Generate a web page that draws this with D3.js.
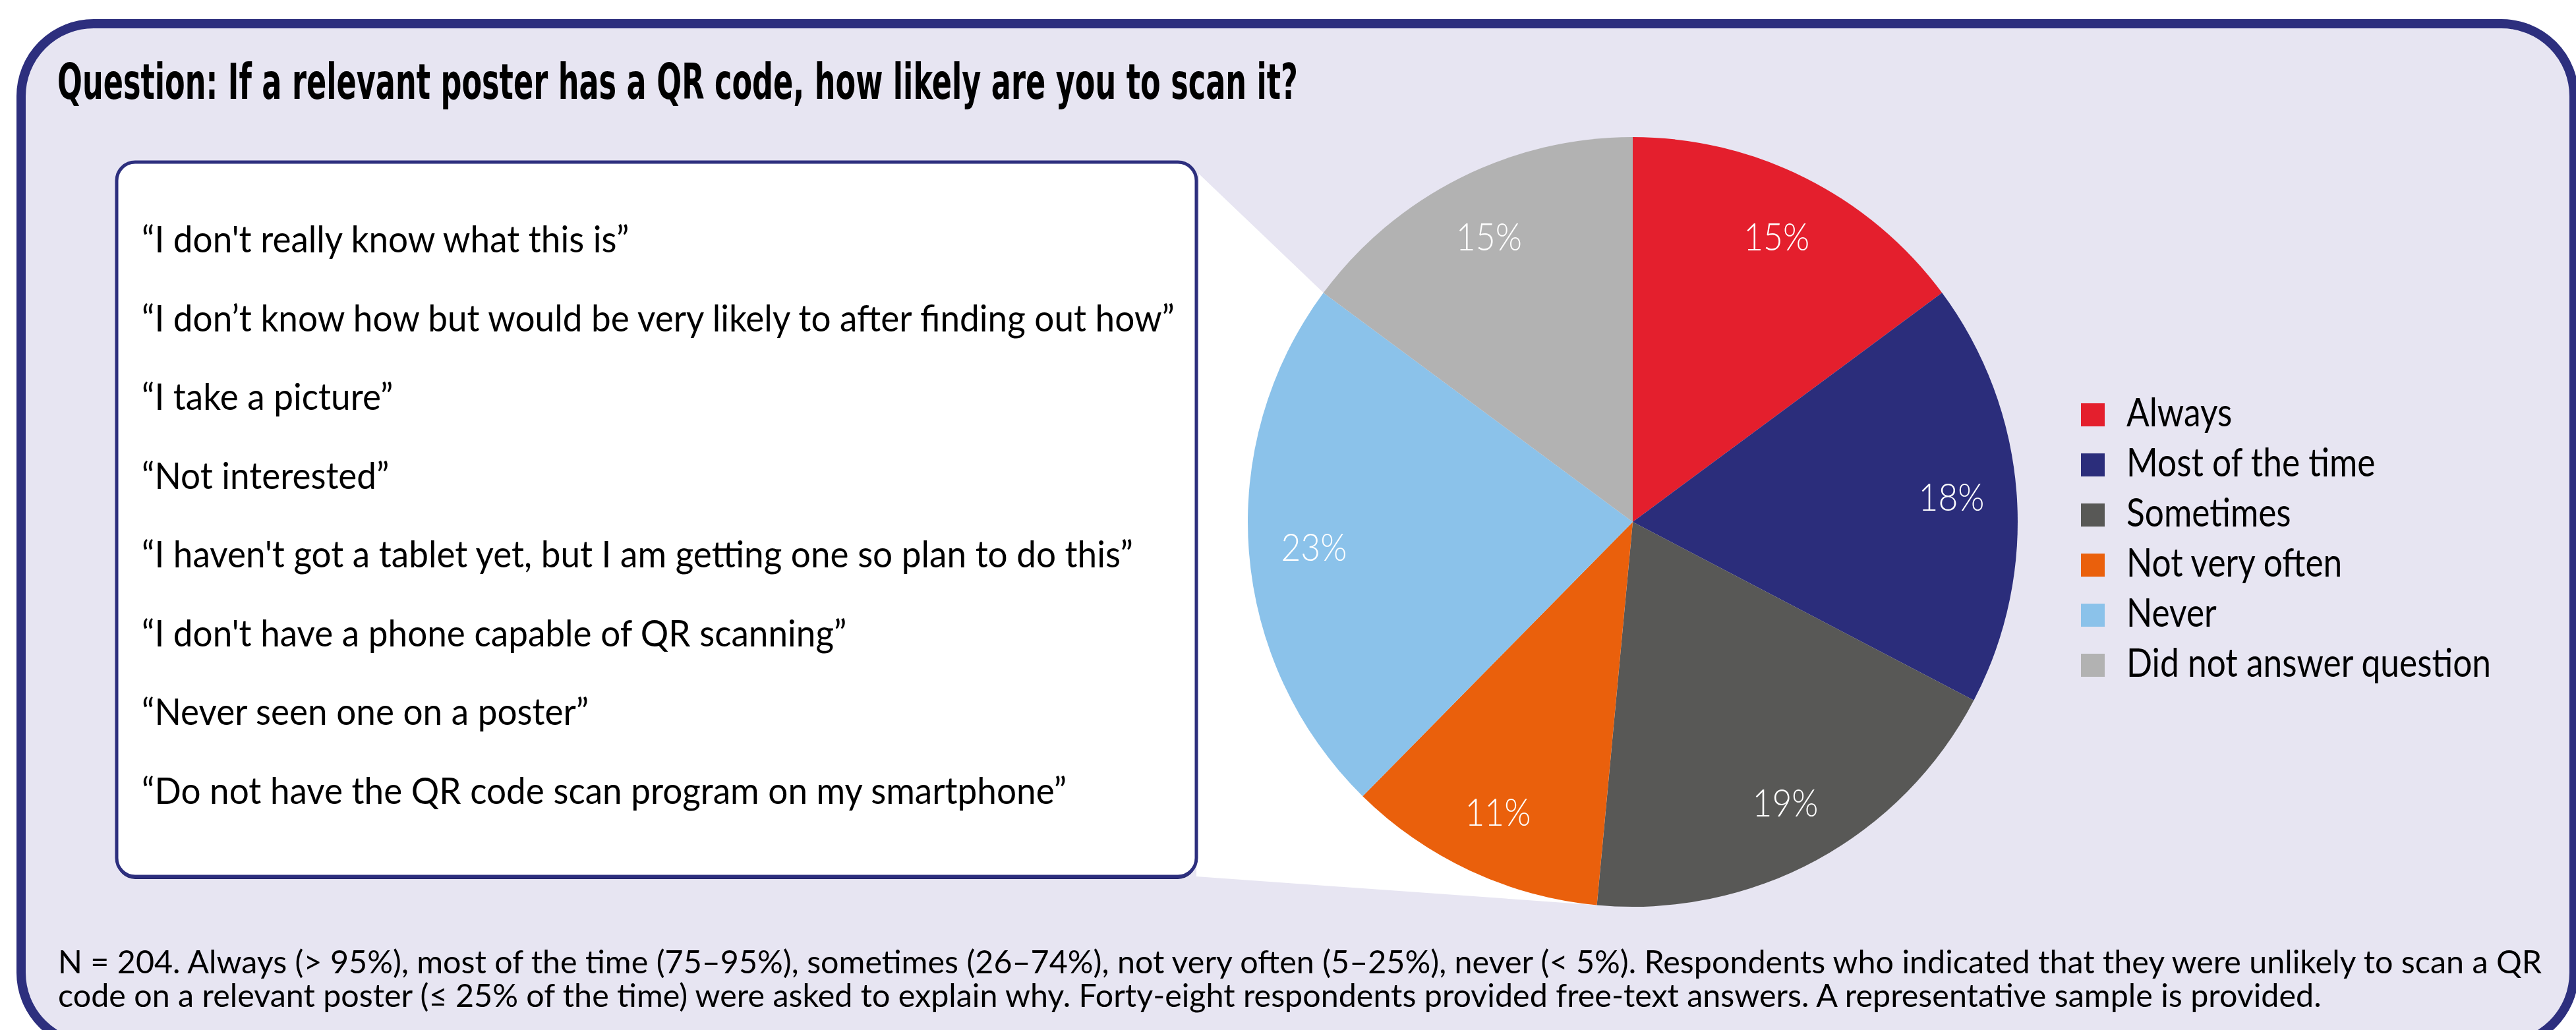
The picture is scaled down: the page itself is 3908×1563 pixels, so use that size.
<!DOCTYPE html>
<html>
<head>
<meta charset="utf-8">
<script src="https://cdn.jsdelivr.net/npm/d3@7"></script>
<style>
  body { margin: 0; background: #fff; overflow: hidden; }
  svg { display: block; }
</style>
</head>
<body>
<svg id="chart" width="3908" height="1563"></svg>
<script>
// datos
const titleText = "Question: If a relevant poster has a QR code, how likely are you to scan it?";
const categories = ["Always", "Most of the time", "Sometimes", "Not very often", "Never", "Did not answer question"];
const shares = [15, 18, 19, 11, 23, 15];
const sliceColors = ["#e41f2d", "#2b2d7b", "#585856", "#ea600c", "#8bc2ea", "#b2b2b2"];
const quotes = [
  "\u201CI don't really know what this is\u201D",
  "\u201CI don\u2019t know how but would be very likely to after finding out how\u201D",
  "\u201CI take a picture\u201D",
  "\u201CNot interested\u201D",
  "\u201CI haven't got a tablet yet, but I am getting one so plan to do this\u201D",
  "\u201CI don't have a phone capable of QR scanning\u201D",
  "\u201CNever seen one on a poster\u201D",
  "\u201CDo not have the QR code scan program on my smartphone\u201D"
];
const footnoteLines = [
  "N = 204. Always (> 95%), most of the time (75\u201395%), sometimes (26\u201374%), not very often (5\u201325%), never (< 5%). Respondents who indicated that they were unlikely to scan a QR",
  "code on a relevant poster (\u2264 25% of the time) were asked to explain why. Forty-eight respondents provided free-text answers. A representative sample is provided."
];

const svg = d3.select("#chart");
const navy = "#2d2f7e";
const bodyFont = "Lato, 'Open Sans', 'DejaVu Sans', sans-serif";

// ajusta el ancho de un grupo de textos a partir de uno de referencia
function fitTexts(sel, refNode, target) {
  const k = target / refNode.getComputedTextLength();
  sel.each(function () {
    const w = this.getComputedTextLength();
    d3.select(this).attr("textLength", w * k).attr("lengthAdjust", "spacingAndGlyphs");
  });
}

// panel de fondo
svg.append("rect")
  .attr("x", 32).attr("y", 36)
  .attr("width", 3873).attr("height", 1550)
  .attr("rx", 110).attr("ry", 110)
  .attr("fill", "#e7e5f2")
  .attr("stroke", navy)
  .attr("stroke-width", 14);

// titulo
const title = svg.append("text")
  .attr("x", 87).attr("y", 150)
  .attr("font-family", "'Liberation Sans Narrow', 'DejaVu Sans Condensed', Lato, sans-serif")
  .attr("font-weight", "bold")
  .attr("font-size", 74)
  .attr("fill", "#000")
  .text(titleText);
fitTexts(title, title.node(), 1882);

// pie
const cx = 2477, cy = 792, radius = 584;
const pie = d3.pie().sort(null).value(d => d)(shares);
const arc = d3.arc().innerRadius(0).outerRadius(radius);
const labelArc = d3.arc().innerRadius(485).outerRadius(485);

// cuña blanca que une la caja de citas con "Not very often" y "Never"
const box = { x: 177, y: 246, w: 1638, h: 1084 };
const edgePoint = a => [cx + radius * Math.sin(a), cy - radius * Math.cos(a)];
const pTop = edgePoint(pie[4].endAngle);
const pBottom = edgePoint(pie[3].startAngle);
svg.append("polygon")
  .attr("points", [
    [box.x + box.w + 4, box.y + 18],
    pTop,
    [cx, cy],
    pBottom,
    [box.x + box.w, box.y + box.h]
  ].map(p => p.join(",")).join(" "))
  .attr("fill", "#fff");

const pieG = svg.append("g").attr("transform", `translate(${cx},${cy})`);
pieG.selectAll("path")
  .data(pie)
  .enter()
  .append("path")
  .attr("d", arc)
  .attr("fill", (d, i) => sliceColors[i]);

const labels = pieG.selectAll("text.lbl")
  .data(pie)
  .enter()
  .append("text")
  .attr("class", "lbl")
  .attr("transform", d => `translate(${labelArc.centroid(d)})`)
  .attr("text-anchor", "middle")
  .attr("dy", "0.36em")
  .attr("font-family", bodyFont)
  .attr("font-weight", 300)
  .attr("font-size", 58)
  .attr("fill", "#fff")
  .text(d => d.data + "%");
fitTexts(labels, labels.node(), 100);

// caja de citas
svg.append("rect")
  .attr("x", box.x).attr("y", box.y + 4)
  .attr("width", box.w).attr("height", box.h)
  .attr("rx", 28).attr("ry", 28)
  .attr("fill", "#23256b");
svg.append("rect")
  .attr("x", box.x).attr("y", box.y)
  .attr("width", box.w).attr("height", box.h)
  .attr("rx", 28).attr("ry", 28)
  .attr("fill", "#fff")
  .attr("stroke", navy)
  .attr("stroke-width", 5);

const quoteTexts = svg.selectAll("text.quote")
  .data(quotes)
  .enter()
  .append("text")
  .attr("class", "quote")
  .attr("x", 215)
  .attr("y", (d, i) => 383 + i * 119.5)
  .attr("font-family", bodyFont)
  .attr("font-size", 56)
  .attr("fill", "#000")
  .text(d => d);
fitTexts(quoteTexts, quoteTexts.nodes()[1], 1567);

// leyenda
const legend = svg.append("g");
legend.selectAll("rect")
  .data(categories)
  .enter()
  .append("rect")
  .attr("x", 3157)
  .attr("y", (d, i) => 612 + i * 76)
  .attr("width", 36)
  .attr("height", 35)
  .attr("fill", (d, i) => sliceColors[i]);
const legendTexts = legend.selectAll("text")
  .data(categories)
  .enter()
  .append("text")
  .attr("x", 3226)
  .attr("y", (d, i) => 647 + i * 76)
  .attr("font-family", bodyFont)
  .attr("font-size", 60)
  .attr("fill", "#000")
  .text(d => d);
fitTexts(legendTexts, legendTexts.nodes()[5], 553);

// nota al pie
const foot = svg.selectAll("text.foot")
  .data(footnoteLines)
  .enter()
  .append("text")
  .attr("class", "foot")
  .attr("x", 88)
  .attr("y", (d, i) => 1477 + i * 51)
  .attr("font-family", bodyFont)
  .attr("font-size", 49)
  .attr("fill", "#000")
  .text(d => d);
fitTexts(foot, foot.node(), 3768);
</script>
</body>
</html>
